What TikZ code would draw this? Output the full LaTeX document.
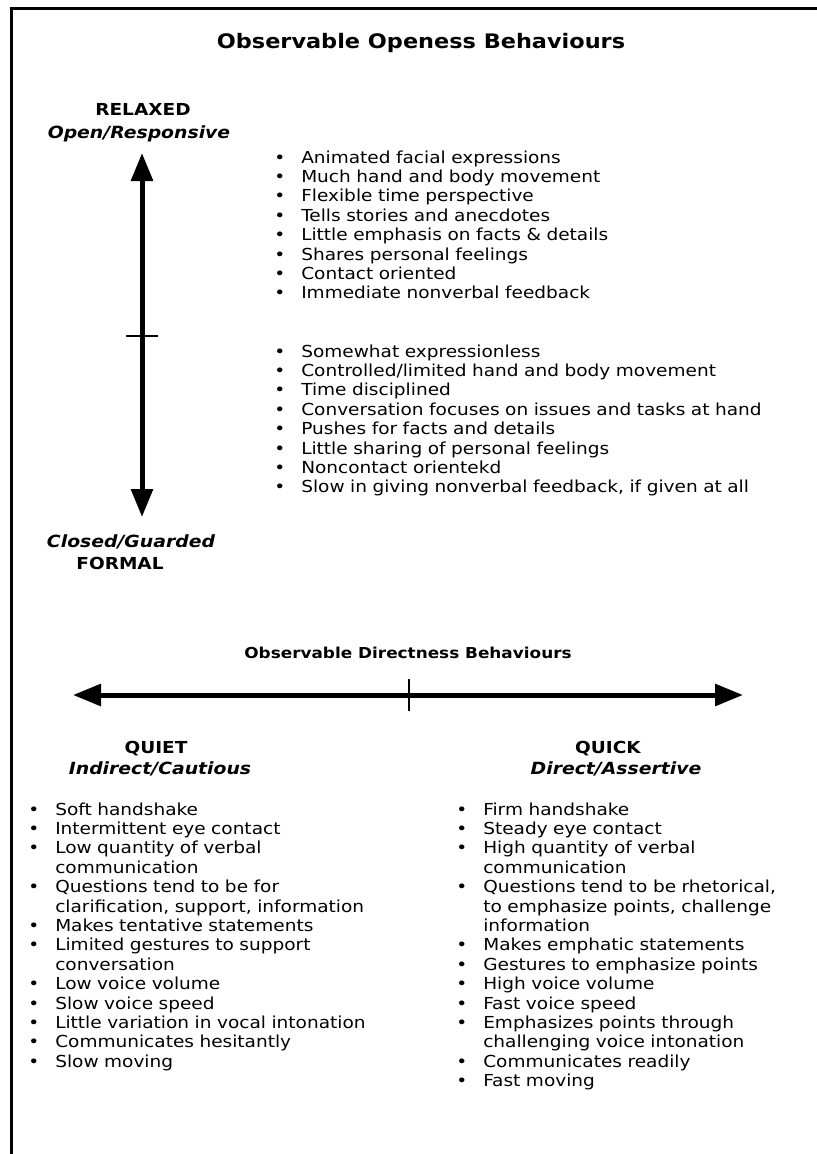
\documentclass[tikz,border=0pt]{standalone}
\usepackage{fontspec}
\setmainfont{DejaVu Sans}[FakeStretch=1.12]
\usepackage{enumitem}
\usetikzlibrary{arrows.meta,positioning}

\setlist[itemize]{label=\textbullet, nosep, leftmargin=24pt, labelsep=12pt}

\begin{document}
\begin{tikzpicture}[
    x=0.75pt, y=-0.75pt,
    every node/.style={inner sep=0pt},
    heading/.style={anchor=base, font=\bfseries\fontsize{12.4}{14.5}\selectfont},
    pole/.style={anchor=base, font=\bfseries\itshape\fontsize{12.6}{14.5}\selectfont},
    traits/.style={anchor=north west, text width=#1,
        font=\fontsize{12.4}{14.55}\selectfont},
    axis/.style={line width=3.75pt,
        {Triangle[length=21pt,width=16pt]}-{Triangle[length=21pt,width=16pt]}},
    tickmark/.style={line width=1.5pt}
]
\useasboundingbox (0,0) rectangle (817,1154);

% frame
\draw[line width=2.25pt] (817,8) -- (11,8) -- (11,1154);

% openness
\node[anchor=base, font=\bfseries\fontsize{15}{18}\selectfont] (title)
    at (421,48) {Observable Openess Behaviours};
\node[heading] (relaxed) at (143,115) {RELAXED};
\node[pole] (open) at (139,138) {Open/Responsive};
\node[pole] (closed) at (131,547) {Closed/Guarded};
\node[heading] (formal) at (120,569) {FORMAL};

\coordinate (open end) at (142,153);
\coordinate (closed end) at (142,517);
\coordinate (mid open) at (142,336);
\draw[axis] (open end) -- (closed end);
\draw[tickmark] ([xshift=-12pt]mid open) -- ([xshift=12pt]mid open);

\node[traits=400pt] (relaxed list) at (269,143.5) {%
\begin{itemize}
\item Animated facial expressions
\item Much hand and body movement
\item Flexible time perspective
\item Tells stories and anecdotes
\item Little emphasis on facts \& details
\item Shares personal feelings
\item Contact oriented
\item Immediate nonverbal feedback
\end{itemize}};

\node[traits=400pt] (formal list) at (269,337.5) {%
\begin{itemize}
\item Somewhat expressionless
\item Controlled/limited hand and body movement
\item Time disciplined
\item Conversation focuses on issues and tasks at hand
\item Pushes for facts and details
\item Little sharing of personal feelings
\item Noncontact orientekd
\item Slow in giving nonverbal feedback, if given at all
\end{itemize}};

% directness
\node[anchor=base, font=\bfseries\fontsize{11.3}{14}\selectfont] (directness)
    at (408,658) {Observable Directness Behaviours};

\coordinate (quiet end) at (73,695);
\coordinate (quick end) at (743,695);
\coordinate (mid direct) at (409,695);
\draw[axis] (quiet end) -- (quick end);
\draw[tickmark] ([yshift=12pt]mid direct) -- ([yshift=-12pt]mid direct);

\node[heading] (quiet) at (156,753) {QUIET};
\node[pole] (indirect) at (160,774) {Indirect/Cautious};
\node[heading] (quick) at (608,753) {QUICK};
\node[pole] (direct) at (616,774) {Direct/Assertive};

\node[traits=300pt] (quiet list) at (23,795.5) {%
\begin{itemize}
\item Soft handshake
\item Intermittent eye contact
\item Low quantity of verbal\newline communication
\item Questions tend to be for\newline clarification, support, information
\item Makes tentative statements
\item Limited gestures to support\newline conversation
\item Low voice volume
\item Slow voice speed
\item Little variation in vocal intonation
\item Communicates hesitantly
\item Slow moving
\end{itemize}};

\node[traits=300pt] (quick list) at (451,795.5) {%
\begin{itemize}
\item Firm handshake
\item Steady eye contact
\item High quantity of verbal\newline communication
\item Questions tend to be rhetorical,\newline to emphasize points, challenge\newline information
\item Makes emphatic statements
\item Gestures to emphasize points
\item High voice volume
\item Fast voice speed
\item Emphasizes points through\newline challenging voice intonation
\item Communicates readily
\item Fast moving
\end{itemize}};
\end{tikzpicture}
\end{document}
